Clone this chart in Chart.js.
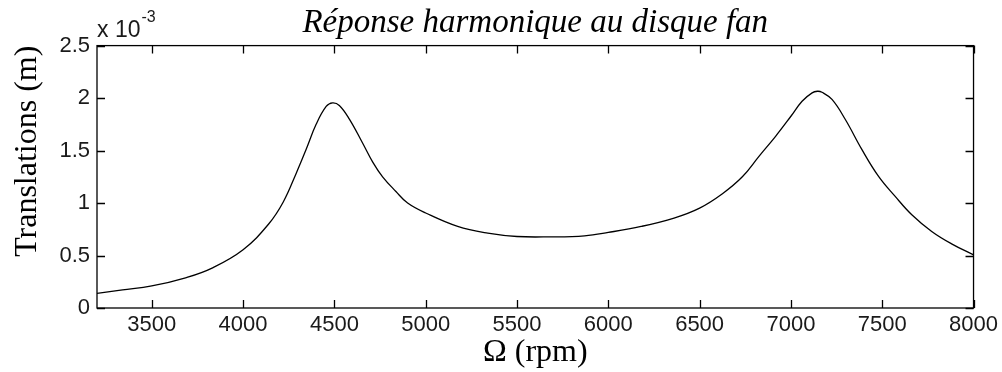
<!DOCTYPE html>
<html>
<head>
<meta charset="utf-8">
<script src="https://cdn.jsdelivr.net/npm/chart.js@4.4.0/dist/chart.umd.min.js"></script>
<style>
html,body{margin:0;padding:0;background:#fff;}
#wrap{width:1002px;height:372px;position:relative;}
</style>
</head>
<body>
<div id="wrap"><canvas id="c" width="1002" height="372"></canvas></div>
<script>
// ---- data (x: rotation speed in rpm, y: translation in units of 10^-3 m) ----
const speedRpm = [3200, 3340, 3500, 3690, 3830, 4000, 4140, 4220, 4290, 4345, 4400, 4455, 4490, 4527, 4582, 4655, 4710, 4764, 4837, 4901, 5000, 5175, 5340, 5500, 5680, 5870, 6000, 6180, 6360, 6500, 6625, 6734, 6825, 6916, 7000, 7061, 7116, 7145, 7170, 7225, 7298, 7389, 7480, 7571, 7662, 7771, 7880, 8000];
const translations = [0.14, 0.172, 0.21, 0.29, 0.38, 0.555, 0.80, 1.01, 1.28, 1.51, 1.75, 1.92, 1.955, 1.93, 1.80, 1.57, 1.39, 1.25, 1.11, 1.0, 0.905, 0.777, 0.713, 0.681, 0.678, 0.688, 0.72, 0.777, 0.857, 0.952, 1.089, 1.25, 1.445, 1.636, 1.827, 1.97, 2.05, 2.065, 2.056, 1.987, 1.796, 1.509, 1.254, 1.063, 0.888, 0.729, 0.611, 0.506];
const xTickValues = [3500, 4000, 4500, 5000, 5500, 6000, 6500, 7000, 7500, 8000];
const yTickValues = [0, 0.5, 1, 1.5, 2, 2.5];
const chartTitle = 'Réponse harmonique au disque fan';
const xAxisLabel = 'Ω (rpm)';
const yAxisLabel = 'Translations (m)';
const yMultiplierBase = 'x 10';
const yMultiplierExp = '-3';

const points = speedRpm.map((v, i) => ({x: v, y: translations[i]}));

const framePlugin = {
  id: 'frame',
  afterDatasetsDraw(chart) {
    const {ctx, chartArea: {left, right, top, bottom}, scales: {x, y}} = chart;
    ctx.save();
    ctx.strokeStyle = '#000';
    ctx.lineWidth = 1.3;
    ctx.strokeRect(left, top, right - left, bottom - top);
    const tl = 8;
    ctx.beginPath();
    xTickValues.forEach(v => {
      const px = Math.round(x.getPixelForValue(v)) + 0.5;
      ctx.moveTo(px, bottom); ctx.lineTo(px, bottom - tl);
      ctx.moveTo(px, top); ctx.lineTo(px, top + tl);
    });
    yTickValues.forEach(v => {
      const py = Math.round(y.getPixelForValue(v)) + 0.5;
      ctx.moveTo(left, py); ctx.lineTo(left + tl, py);
      ctx.moveTo(right, py); ctx.lineTo(right - tl, py);
    });
    ctx.stroke();
    // axis multiplier
    ctx.fillStyle = '#1a1a1a';
    ctx.textBaseline = 'alphabetic';
    ctx.textAlign = 'left';
    ctx.font = '23px "Liberation Sans", Arial, sans-serif';
    ctx.fillText(yMultiplierBase, left, top - 9);
    const w = ctx.measureText(yMultiplierBase).width;
    ctx.font = '16px "Liberation Sans", Arial, sans-serif';
    ctx.fillText(yMultiplierExp, left + w + 1, top - 24);
    ctx.restore();
  }
};

new Chart(document.getElementById('c'), {
  type: 'line',
  data: {
    datasets: [{
      data: points,
      borderColor: '#000',
      borderWidth: 1.3,
      pointRadius: 0,
      fill: false,
      tension: 0.4
    }]
  },
  options: {
    responsive: false,
    animation: false,
    devicePixelRatio: 1,
    layout: {padding: {top: 0, left: 0, right: 27, bottom: 0}},
    plugins: {
      legend: {display: false},
      tooltip: {enabled: false},
      title: {
        display: true,
        text: chartTitle,
        fullSize: false,
        color: '#000',
        font: {family: '"Liberation Serif", "Times New Roman", serif', size: 33, style: 'italic', weight: 'normal', lineHeight: 1.2},
        padding: {top: 4, bottom: 2}
      }
    },
    scales: {
      x: {
        type: 'linear',
        min: 3200,
        max: 8000,
        afterBuildTicks: s => { s.ticks = xTickValues.map(v => ({value: v})); },
        afterFit: s => { s.height = 64; },
        grid: {display: false, drawTicks: false},
        border: {display: false},
        ticks: {
          color: '#1a1a1a',
          padding: 4,
          maxRotation: 0,
          autoSkip: false,
          font: {family: '"Liberation Sans", Arial, sans-serif', size: 22},
          callback: v => String(v)
        },
        title: {
          display: true,
          text: xAxisLabel,
          color: '#000',
          font: {family: '"Liberation Serif", "Times New Roman", serif', size: 32, lineHeight: 1.2},
          padding: {top: 0, bottom: 0}
        }
      },
      y: {
        type: 'linear',
        min: 0,
        max: 2.5,
        afterBuildTicks: s => { s.ticks = yTickValues.map(v => ({value: v})); },
        afterFit: s => { s.width = 97; },
        grid: {display: false, drawTicks: false},
        border: {display: false},
        ticks: {
          color: '#1a1a1a',
          padding: 7,
          autoSkip: false,
          font: {family: '"Liberation Sans", Arial, sans-serif', size: 22},
          callback: v => String(v)
        },
        title: {
          display: true,
          text: yAxisLabel,
          align: 'end',
          color: '#000',
          font: {family: '"Liberation Serif", "Times New Roman", serif', size: 32, lineHeight: 1.2},
          padding: {top: 8, bottom: 0}
        }
      }
    }
  },
  plugins: [framePlugin]
});
</script>
</body>
</html>
